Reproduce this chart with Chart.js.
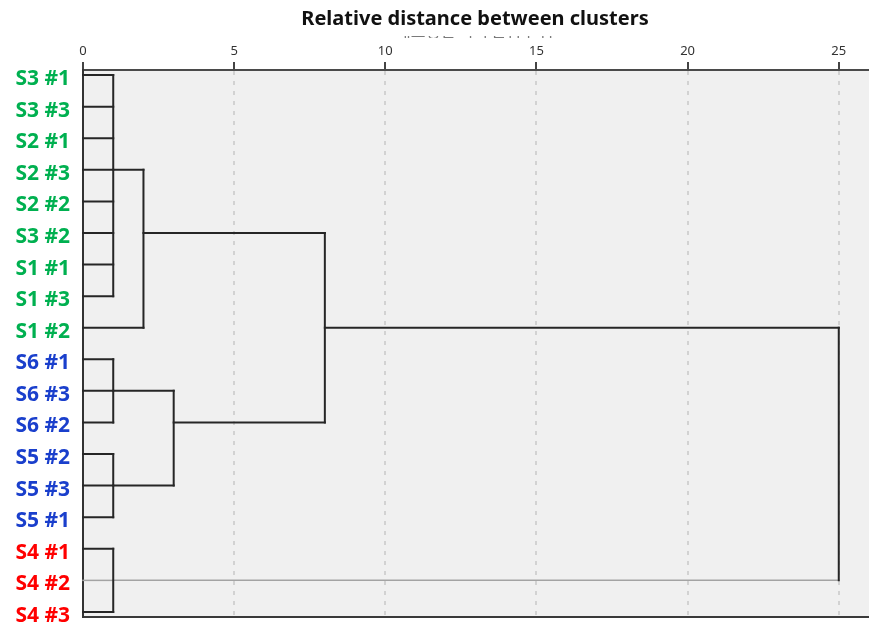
<!DOCTYPE html>
<html>
<head>
<meta charset="utf-8">
<script src="https://cdn.jsdelivr.net/npm/chart.js@4/dist/chart.umd.min.js"></script>
<style>
  html, body { margin: 0; padding: 0; background: #ffffff; }
  #wrap { width: 869px; height: 624px; position: relative; }
</style>
</head>
<body>
<div id="wrap"><canvas id="dendro"></canvas></div>
<script>
// ---- data -------------------------------------------------------------
// Leaves, top to bottom
const leafLabels = [
  'S3 #1', 'S3 #3', 'S2 #1', 'S2 #3', 'S2 #2', 'S3 #2', 'S1 #1', 'S1 #3', 'S1 #2',
  'S6 #1', 'S6 #3', 'S6 #2', 'S5 #2', 'S5 #3', 'S5 #1', 'S4 #1', 'S4 #2', 'S4 #3'
];

// Agglomeration steps. Node ids 0..17 are leaves, 18.. are the clusters below in order.
const clusterMembers = [
  [0, 1, 2, 3, 4, 5, 6, 7],  // 18
  [18, 8],                   // 19
  [9, 10, 11],               // 20
  [12, 13, 14],              // 21
  [20, 21],                  // 22
  [19, 22],                  // 23
  [15, 16, 17],              // 24
  [23, 24]                   // 25 (root)
];
// Rescaled joining distance of each cluster
const clusterHeights = [1, 2, 1, 1, 3, 8, 1, 25];
// Row at which each cluster's link leaves towards its parent
const clusterLinkRows = [3, 5, 10, 13, 11, 8, 16, 12];

// Distance axis ticks
const distanceTicks = [0, 5, 10, 15, 20, 25];

// ---- styling ------------------------------------------------------------
const groupColor = { S1: '#00b050', S2: '#00b050', S3: '#00b050', S5: '#1a3fcc', S6: '#1a3fcc', S4: '#ff0000' };
const fadedRow = leafLabels.indexOf('S4 #2');
const LINE = '#262626';
const FADED = '#a3a3a3';

// ---- dendrogram segments ---------------------------------------------------
function buildSegments() {
  const nodes = leafLabels.map((_, i) => ({ height: 0, row: i }));
  const segs = [];
  clusterMembers.forEach((members, k) => {
    const h = clusterHeights[k];
    const rows = members.map(m => nodes[m].row);
    members.forEach(m => {
      segs.push([{ x: nodes[m].height, y: nodes[m].row }, { x: h, y: nodes[m].row }]);
    });
    segs.push([{ x: h, y: Math.min(...rows) }, { x: h, y: Math.max(...rows) }]);
    nodes.push({ height: h, row: clusterLinkRows[k] });
  });
  return segs;
}

const datasets = buildSegments().map(pts => {
  const faded = pts[0].y === fadedRow && pts[1].y === fadedRow;
  return {
    data: pts,
    borderColor: faded ? FADED : LINE,
    borderWidth: faded ? 1.5 : 2,
    borderCapStyle: 'square',
    pointRadius: 0,
    pointHoverRadius: 0,
    showLine: true,
    fill: false,
    tension: 0,
    order: faded ? 2 : 1,
    clip: 4
  };
});

// ---- plugins --------------------------------------------------------------
const plotBackground = {
  id: 'plotBackground',
  beforeDraw(chart) {
    const { ctx, chartArea: a } = chart;
    ctx.save();
    ctx.fillStyle = '#ffffff';
    ctx.fillRect(0, 0, chart.width, chart.height);
    ctx.fillStyle = '#f0f0f0';
    ctx.fillRect(a.left, a.top, a.right - a.left, a.bottom - a.top);
    ctx.restore();
  }
};

const heading = {
  id: 'heading',
  afterDraw(chart) {
    const { ctx } = chart;
    const cx = 475;
    ctx.save();
    // original header line, mostly hidden beneath the English title
    ctx.beginPath();
    ctx.rect(0, 36, chart.width, 2);
    ctx.clip();
    ctx.fillStyle = '#7a7a7a';
    ctx.font = '16px "Noto Sans CJK KR"';
    ctx.textAlign = 'center';
    ctx.textBaseline = 'alphabetic';
    ctx.fillText('재조정된 거리 군집 결합', cx, 37);
    ctx.restore();

    ctx.save();
    ctx.fillStyle = '#111111';
    ctx.font = 'bold 20px "Noto Sans"';
    ctx.textAlign = 'center';
    ctx.textBaseline = 'middle';
    ctx.fillText('Relative distance between clusters', cx, 19);
    ctx.restore();
  }
};

// ---- chart ----------------------------------------------------------------
new Chart(document.getElementById('dendro'), {
  type: 'scatter',
  data: { datasets },
  plugins: [plotBackground, heading],
  options: {
    responsive: true,
    maintainAspectRatio: false,
    animation: false,
    events: [],
    layout: { padding: 0 },
    plugins: {
      legend: { display: false },
      title: { display: false },
      tooltip: { enabled: false }
    },
    scales: {
      x: {
        type: 'linear',
        position: 'top',
        min: 0,
        max: 26,
        afterBuildTicks: s => { s.ticks = distanceTicks.map(v => ({ value: v })); },
        afterFit: s => { s.height = 70; s.paddingLeft = 0; s.paddingRight = 0; },
        ticks: {
          padding: 3,
          color: '#333333',
          font: { family: '"Noto Sans"', size: 13 },
          maxRotation: 0
        },
        grid: {
          drawOnChartArea: true,
          drawTicks: true,
          tickLength: 8,
          tickWidth: 2,
          tickColor: '#444444',
          tickBorderDash: [],
          color: '#d2d2d2',
          lineWidth: 2
        },
        border: { display: true, color: '#4a4a4a', width: 2, dash: [4, 6] }
      },
      xBottom: {
        type: 'linear',
        position: 'bottom',
        min: 0,
        max: 26,
        afterFit: s => { s.height = 7; s.paddingLeft = 0; s.paddingRight = 0; },
        ticks: { display: false },
        grid: { display: false, drawTicks: false },
        border: { display: true, color: '#3a3a3a', width: 2 }
      },
      y: {
        type: 'linear',
        reverse: true,
        min: -0.16,
        max: 17.16,
        afterBuildTicks: s => { s.ticks = leafLabels.map((_, i) => ({ value: i })); },
        afterFit: s => { s.width = 83; s.paddingTop = 0; s.paddingBottom = 0; },
        ticks: {
          padding: 13,
          labelOffset: 4,
          autoSkip: false,
          callback: v => leafLabels[v],
          color: c => groupColor[leafLabels[c.tick.value].split(' ')[0]],
          font: { family: '"Noto Sans"', size: 21, weight: 'bold' }
        },
        grid: { display: false, drawTicks: false },
        border: { display: true, color: '#333333', width: 2 }
      }
    }
  }
});
</script>
</body>
</html>
